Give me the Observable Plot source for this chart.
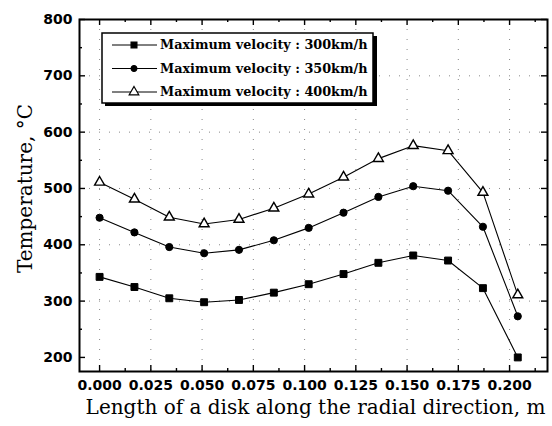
<!DOCTYPE html>
<html><head><meta charset="utf-8">
<script src="https://cdn.jsdelivr.net/npm/d3@7"></script>
<script src="https://cdn.jsdelivr.net/npm/@observablehq/plot@0.6"></script>
<style>body{margin:0;background:#fff}</style>
</head><body><div id="chart"></div>
<script>
const lengths = [0.000, 0.017, 0.034, 0.051, 0.068, 0.085, 0.102, 0.119, 0.136, 0.153, 0.170, 0.187, 0.204];
const temp300 = [343, 325, 305, 298, 302, 315, 330, 348, 368, 381, 372, 323, 200];
const temp350 = [448, 422, 396, 385, 391, 408, 430, 457, 485, 504, 496, 432, 273];
const temp400 = [511, 481, 449, 437, 445, 465, 490, 520, 553, 576, 567, 493, 311];
const seriesNames = ["Maximum velocity : 300km/h", "Maximum velocity : 350km/h", "Maximum velocity : 400km/h"];
const seriesSymbols = ["square", "circle", "triangle"];
const xTicks = [0, 0.025, 0.05, 0.075, 0.1, 0.125, 0.15, 0.175, 0.2];
const xMinor = [0.0125, 0.0375, 0.0625, 0.0875, 0.1125, 0.1375, 0.1625, 0.1875, 0.2125];
const yTicks = [200, 300, 400, 500, 600, 700, 800];
const yMinor = [250, 350, 450, 550, 650, 750];

const allSeries = [temp300, temp350, temp400];
const rows = [];
allSeries.forEach((vals, s) => vals.forEach((v, i) => rows.push({x: lengths[i], y: v, s})));

const W = 552, H = 426, mL = 79, mR = 5, mT = 19, mB = 55;
const iW = W - mL - mR, iH = H - mT - mB;
const serif = "'DejaVu Serif', serif";
const sans = "'DejaVu Sans', sans-serif";

const dotMarks = seriesSymbols.map((sym, s) => Plot.dot(rows.filter(d => d.s === s), {
  x: "x", y: "y", symbol: () => sym,
  r: sym === "square" ? 3.9 : sym === "circle" ? 3.6 : 3.7,
  fill: sym === "triangle" ? "white" : "black", stroke: "black", strokeWidth: sym === "triangle" ? 1.4 : 1
}));

const chart = Plot.plot({
  width: W, height: H,
  marginLeft: mL, marginRight: mR, marginTop: mT, marginBottom: mB,
  x: {domain: [-0.0098, 0.2185]},
  y: {domain: [175, 800]},
  symbol: {range: seriesSymbols, domain: seriesSymbols},
  style: {background: "white"},
  marks: [
    Plot.ruleX(xTicks, {stroke: "#888", strokeWidth: 1, strokeDasharray: "1,9"}),
    Plot.ruleY(yTicks.slice(1, -1), {stroke: "#888", strokeWidth: 1, strokeDasharray: "1,9"}),
    Plot.tickX(xTicks, {x: d => d, insetTop: iH - 6, stroke: "black", strokeWidth: 1.4}),
    Plot.tickX(xTicks, {x: d => d, insetBottom: iH - 6, stroke: "black", strokeWidth: 1.4}),
    Plot.tickX(xMinor, {x: d => d, insetTop: iH - 3, stroke: "black", strokeWidth: 1.4}),
    Plot.tickX(xMinor, {x: d => d, insetBottom: iH - 3, stroke: "black", strokeWidth: 1.4}),
    Plot.tickY(yTicks, {y: d => d, insetRight: iW - 6, stroke: "black", strokeWidth: 1.4}),
    Plot.tickY(yTicks, {y: d => d, insetLeft: iW - 6, stroke: "black", strokeWidth: 1.4}),
    Plot.tickY(yMinor, {y: d => d, insetRight: iW - 3, stroke: "black", strokeWidth: 1.4}),
    Plot.tickY(yMinor, {y: d => d, insetLeft: iW - 3, stroke: "black", strokeWidth: 1.4}),
    Plot.line(rows, {x: "x", y: "y", z: "s", stroke: "black", strokeWidth: 1.1}),
    ...dotMarks,
    Plot.frame({stroke: "black", strokeWidth: 2}),
    Plot.axisX(xTicks, {tickSize: 0, tickPadding: 9, tickFormat: d3.format(".3f"), label: null,
      fontSize: 14, fontWeight: "bold", fontFamily: sans, fill: "black"}),
    Plot.axisY(yTicks, {tickSize: 0, tickPadding: 7, label: null,
      fontSize: 14, fontWeight: "bold", fontFamily: sans, fill: "black"}),
    Plot.text(["Length of a disk along the radial direction, m"], {frameAnchor: "bottom", dy: 42, dx: 2,
      textAnchor: "middle", fontSize: 20, fontFamily: serif, fill: "black"}),
    Plot.text(["Temperature, °C"], {frameAnchor: "left", dx: -54, dy: -7, rotate: -90,
      textAnchor: "middle", fontSize: 20, fontFamily: serif, fill: "black"})
  ]
});

const svg = d3.select(chart);
const lg = svg.append("g").attr("text-anchor", "start");
lg.append("rect").attr("x", 105).attr("y", 36).attr("width", 272).attr("height", 70).attr("fill", "black");
lg.append("rect").attr("x", 102).attr("y", 33).attr("width", 271).attr("height", 70)
  .attr("fill", "white").attr("stroke", "black").attr("stroke-width", 1.5);
const sym = [d3.symbolSquare, d3.symbolCircle, d3.symbolTriangle];
const sizes = [34, 26, 40];
seriesNames.forEach((name, i) => {
  const yy = 45 + i * 23.5;
  lg.append("line").attr("x1", 112).attr("x2", 157).attr("y1", yy).attr("y2", yy).attr("stroke", "black");
  lg.append("path").attr("d", d3.symbol(sym[i], sizes[i])()).attr("transform", `translate(134,${yy})`)
    .attr("fill", i === 2 ? "white" : "black").attr("stroke", "black").attr("stroke-width", 1.2);
  lg.append("text").attr("x", 160).attr("y", yy).attr("dy", "0.35em").text(name)
    .attr("text-anchor", "start")
    .attr("font-family", serif).attr("font-weight", "bold").attr("font-size", 12.8).attr("fill", "black");
});

document.getElementById("chart").appendChild(chart);
</script>
</body></html>
